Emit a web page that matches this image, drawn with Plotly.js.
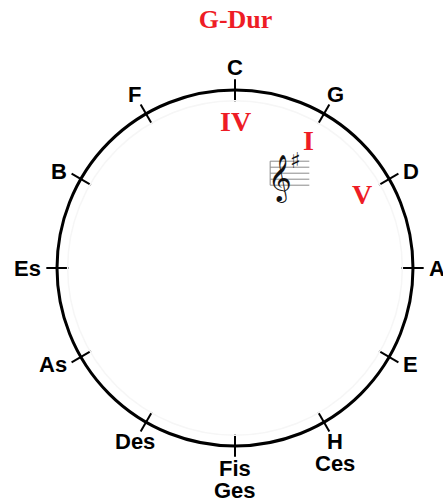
<!DOCTYPE html>
<html>
<head>
<meta charset="utf-8">
<script src="https://cdn.plot.ly/plotly-3.0.1.min.js"></script>
<style>html,body{margin:0;padding:0;background:#fff;}#chart{width:443px;height:503px;}</style>
</head>
<body>
<div id="chart"></div>
<script>
// ---- data ----
const keys = ["C", "G", "D", "A", "E", "H", "Fis", "Des", "As", "Es", "B", "F"];
const enharmonic = ["", "", "", "", "", "Ces", "Ges", "", "", "", "", ""];
const degreeLabels = ["IV", "I", "V"];
const degreeKeys = ["C", "G", "D"];
const tonic = "G";
const title = "G-Dur";
const keySignature = "♯";

// ---- geometry helpers (unit circle, clockwise from top) ----
const RED = "#ee1c25";
const step = 360 / keys.length;
function pos(i, r) {
  const a = (i * step) * Math.PI / 180;
  return [r * Math.sin(a), r * Math.cos(a)];
}

// ticks crossing the circle
const tx = [], ty = [];
keys.forEach((k, i) => {
  const p0 = pos(i, 0.935), p1 = pos(i, 1.06);
  tx.push(p0[0], p1[0], null); ty.push(p0[1], p1[1], null);
});

const annotations = [];
const labelFont = {family: "Liberation Sans, Arial, sans-serif", size: 22, color: "#000", weight: "bold"};
keys.forEach((k, i) => {
  const a = i * step * Math.PI / 180;
  const s = Math.sin(a);
  let p, xanchor = "center";
  if (Math.abs(s) > 0.7) {
    p = pos(i, 1.08);
    xanchor = s > 0 ? "left" : "right";
  } else {
    p = pos(i, 1.125);
  }
  annotations.push({x: p[0], y: p[1], text: k, showarrow: false, xanchor: xanchor, yanchor: "middle", font: labelFont});
  if (enharmonic[i]) {
    annotations.push({x: p[0], y: p[1] - 0.124, text: enharmonic[i], showarrow: false, xanchor: xanchor, yanchor: "middle", font: labelFont});
  }
});

degreeLabels.forEach((d, j) => {
  const i = keys.indexOf(degreeKeys[j]);
  const p = pos(i, 0.825);
  annotations.push({x: p[0], y: p[1], text: d, showarrow: false, xanchor: "center", yanchor: "middle",
    font: {family: "Liberation Serif, Times New Roman, serif", size: 28, color: RED, weight: "bold"}});
});

// key signature staff near tonic
const ti = keys.indexOf(tonic);
const sc = pos(ti, 0.615);
const sp = 6 / 178;
const sx0 = sc[0] - 0.11, sx1 = sc[0] + 0.11;
const shapes = [
  {type: "circle", xref: "x", yref: "y", x0: -0.94, x1: 0.94, y0: -0.94, y1: 0.94, line: {color: "#f6f6f6", width: 1.5}},
  {type: "circle", xref: "x", yref: "y", x0: -1, x1: 1, y0: -1, y1: 1, line: {color: "#000", width: 3}}
];
for (let l = -2; l <= 2; l++) {
  shapes.push({type: "line", xref: "x", yref: "y", x0: sx0, x1: sx1, y0: sc[1] + l * sp, y1: sc[1] + l * sp, line: {color: "#8a8a8a", width: 1}});
}
shapes.push({type: "line", xref: "x", yref: "y", x0: sx0, x1: sx0, y0: sc[1] - 2 * sp, y1: sc[1] + 2 * sp, line: {color: "#8a8a8a", width: 1}});
annotations.push({x: sc[0] - 0.055, y: sc[1] - 0.03, text: "𝄞", showarrow: false, xanchor: "center", yanchor: "middle",
  font: {family: "DejaVu Sans, Noto Sans, sans-serif", size: 40, color: "#111"}});
annotations.push({x: sc[0] + 0.035, y: sc[1] + 0.07, text: keySignature, showarrow: false, xanchor: "center", yanchor: "middle",
  font: {family: "DejaVu Sans, sans-serif", size: 22, color: "#111"}});

const traces = [{
  type: "scatter", mode: "lines", x: tx, y: ty, line: {color: "#000", width: 2}, hoverinfo: "skip"
}];

const layout = {
  width: 443, height: 503,
  margin: {l: 0, r: 0, t: 0, b: 0},
  paper_bgcolor: "#fff", plot_bgcolor: "#fff",
  showlegend: false,
  title: {text: title, x: 235.5 / 443, xref: "container", xanchor: "center", y: 1 - 19 / 503, yref: "container", yanchor: "middle",
    font: {family: "Liberation Serif, Times New Roman, serif", size: 26, color: RED, weight: "bold"}},
  xaxis: {range: [-235 / 178, 208 / 178], visible: false, fixedrange: true},
  yaxis: {range: [-235 / 178, 268 / 178], visible: false, fixedrange: true},
  shapes: shapes,
  annotations: annotations
};

Plotly.newPlot("chart", traces, layout, {staticPlot: true, displayModeBar: false});
</script>
</body>
</html>
